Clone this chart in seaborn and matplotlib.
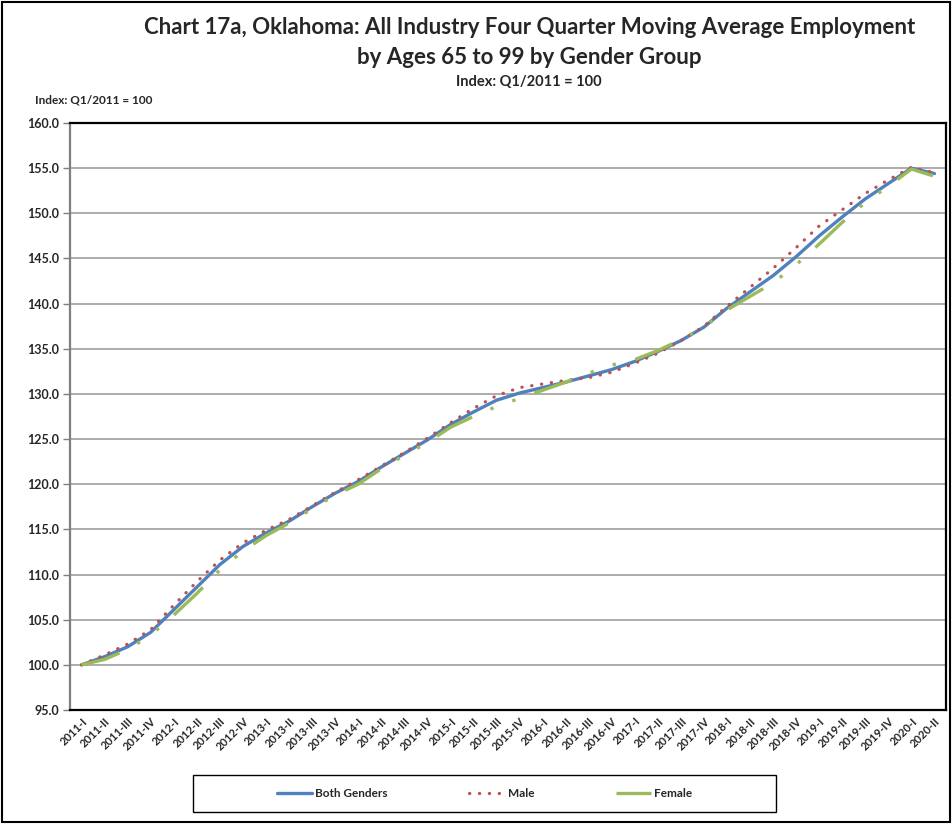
import matplotlib
matplotlib.use("Agg")
import matplotlib.pyplot as plt
import seaborn as sns
import numpy as np
from matplotlib.patches import Rectangle

sns.set_style("white")
plt.rcParams["font.family"] = ["Lato", "DejaVu Sans"]
plt.rcParams["font.weight"] = "bold"

quarters = [
    "2011-I", "2011-II", "2011-III", "2011-IV",
    "2012-I", "2012-II", "2012-III", "2012-IV",
    "2013-I", "2013-II", "2013-III", "2013-IV",
    "2014-I", "2014-II", "2014-III", "2014-IV",
    "2015-I", "2015-II", "2015-III", "2015-IV",
    "2016-I", "2016-II", "2016-III", "2016-IV",
    "2017-I", "2017-II", "2017-III", "2017-IV",
    "2018-I", "2018-II", "2018-III", "2018-IV",
    "2019-I", "2019-II", "2019-III", "2019-IV",
    "2020-I", "2020-II",
]
both = [100.0, 100.9, 102.0, 103.6, 106.1, 108.6, 111.1, 113.1, 114.6, 115.9,
        117.5, 119.0, 120.3, 121.9, 123.4, 124.9, 126.6, 128.0, 129.3, 130.1,
        130.7, 131.3, 132.0, 132.7, 133.6, 134.7, 135.9, 137.4, 139.5, 141.3,
        143.1, 145.2, 147.5, 149.6, 151.6, 153.3, 155.0, 154.4]
male = [100.0, 101.1, 102.3, 103.9, 106.6, 109.2, 111.6, 113.5, 114.9, 116.1,
        117.6, 119.1, 120.5, 122.0, 123.5, 125.1, 126.8, 128.4, 129.8, 130.7,
        131.1, 131.5, 131.8, 132.4, 133.4, 134.5, 135.9, 137.5, 139.7, 141.8,
        143.9, 146.2, 148.6, 150.4, 152.2, 153.7, 155.1, 154.5]
female = [100.0, 100.6, 101.7, 103.3, 105.5, 107.9, 110.5, 112.6, 114.3, 115.7,
          117.3, 118.8, 120.0, 121.7, 123.2, 124.6, 126.3, 127.5, 128.6, 129.5,
          130.4, 131.3, 132.3, 133.2, 133.8, 134.8, 136.0, 137.4, 139.3, 140.8,
          142.3, 144.3, 146.6, 149.0, 151.2, 153.0, 154.9, 154.1]
yticks = [95, 100, 105, 110, 115, 120, 125, 130, 135, 140, 145, 150, 155, 160]

idx = np.arange(len(quarters))

fig = plt.figure(figsize=(9.52, 8.24), dpi=100)
ax = fig.add_axes([70 / 952, 1 - 710 / 824, 876 / 952, 587 / 824])

sns.lineplot(x=idx, y=both, ax=ax, color="#4F81BD", linewidth=2.4,
             label="Both Genders")
sns.lineplot(x=idx, y=male, ax=ax, color="#C0504D", linewidth=2.3,
             linestyle=(0, (0.1, 3)), dash_capstyle="round", label="Male")
sns.lineplot(x=idx, y=female, ax=ax, color="#9BBB59", linewidth=2.4,
             linestyle=(0, (12, 6, 1, 6, 1, 6)), label="Female")

ax.set_xlim(-0.5, len(quarters) - 0.5)
ax.set_ylim(95, 160)
ax.set_yticks(yticks)
ax.set_yticklabels([f"{v:.1f}" for v in yticks], fontsize=9, fontweight="bold")
ax.set_xticks(idx)
ax.set_xticklabels(quarters, rotation=45, ha="right", rotation_mode="anchor",
                   fontsize=8, fontweight="bold")
ax.tick_params(axis="x", length=0, pad=4)
ax.tick_params(axis="y", length=5, width=1, color="#7f7f7f", pad=3, left=True)
ax.yaxis.grid(True, color="#a6a6a6", linewidth=1.3)
ax.set_axisbelow(True)
ax.set_xlabel("")
ax.set_ylabel("")
for side in ["top", "right", "bottom"]:
    ax.spines[side].set_color("black")
    ax.spines[side].set_linewidth(1.6)
ax.spines["left"].set_color("#7f7f7f")
ax.spines["left"].set_linewidth(1.6)

handles, labels = ax.get_legend_handles_labels()
if ax.get_legend() is not None:
    ax.get_legend().remove()
fig.legend(handles, labels, loc="center", ncol=3,
           bbox_to_anchor=(484.5 / 952, 1 - 793.5 / 824),
           frameon=False, prop={"weight": "bold", "size": 8.5},
           handlelength=3.0, handletextpad=0.25, columnspacing=6.9)
fig.patches.append(Rectangle((193 / 952, 1 - 812 / 824), 583 / 952, 37 / 824,
                             transform=fig.transFigure, fill=False,
                             edgecolor="black", linewidth=1.0))

fig.text(0.556, 1 - 28 / 824, "Chart 17a, Oklahoma: All Industry Four Quarter Moving Average Employment",
         ha="center", va="center", fontsize=16, fontweight="bold")
fig.text(0.556, 1 - 57 / 824, "by Ages 65 to 99 by Gender Group",
         ha="center", va="center", fontsize=16, fontweight="bold")
fig.text(0.556, 1 - 82 / 824, "Index: Q1/2011 = 100",
         ha="center", va="center", fontsize=10.5, fontweight="bold")
fig.text(35 / 952, 1 - 100 / 824, "Index: Q1/2011 = 100",
         ha="left", va="center", fontsize=8.5, fontweight="bold")

fig.patches.append(Rectangle((0.002, 0.002), 0.996, 0.995, transform=fig.transFigure,
                             fill=False, edgecolor="black", linewidth=1.5))

fig.savefig("out.png", dpi=100)
